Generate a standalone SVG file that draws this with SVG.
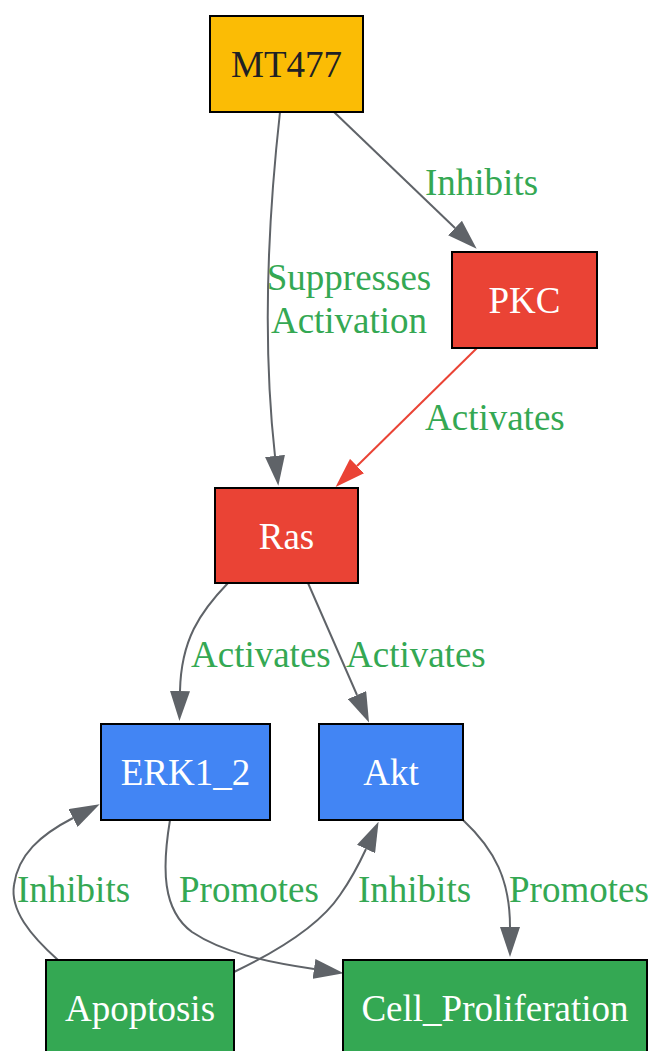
<svg xmlns="http://www.w3.org/2000/svg" width="652" height="1051" viewBox="0 0 652 1051">
<style>
.node rect{stroke:#000;stroke-width:2}
.node text{font-family:"Liberation Serif","Times New Roman",serif;font-size:37px;text-anchor:middle;fill:#fff}
.edge{fill:none;stroke:#5F6368;stroke-width:2}
.red{stroke:#EA4335}
.lbl{font-family:"Liberation Serif","Times New Roman",serif;font-size:37px;fill:#34A853}
</style>
<defs>
<marker id="ag" viewBox="0 0 30 20" markerWidth="30" markerHeight="20" markerUnits="userSpaceOnUse" refX="0" refY="10" orient="auto"><path d="M0,0 L30,10 L0,20 z" fill="#5F6368"/></marker>
<marker id="ar" viewBox="0 0 30 20" markerWidth="30" markerHeight="20" markerUnits="userSpaceOnUse" refX="0" refY="10" orient="auto"><path d="M0,0 L30,10 L0,20 z" fill="#EA4335"/></marker>
</defs>
<rect width="652" height="1051" fill="#fff"/>
<g id="edges">
<path class="edge" d="M280,112 C268,220 262,340 275,456" marker-end="url(#ag)"/>
<path class="edge" d="M334,112 L455,228" marker-end="url(#ag)"/>
<path class="edge red" d="M477,348 L357,466" marker-end="url(#ar)"/>
<path class="edge" d="M228,583 C200,612 181,640 180,691" marker-end="url(#ag)"/>
<path class="edge" d="M308,583 L357,695" marker-end="url(#ag)"/>
<path class="edge" d="M170,820 C162,868 162,910 192,932 C222,952 265,962 314,969" marker-end="url(#ag)"/>
<path class="edge" d="M463,820 C495,850 510,880 510,927" marker-end="url(#ag)"/>
<path class="edge" d="M58,960 C30,935 10,910 14,885 C18,855 40,835 73,818" marker-end="url(#ag)"/>
<path class="edge" d="M234,972 C280,950 320,925 340,895 C352,878 360,862 366,849" marker-end="url(#ag)"/>
<text class="lbl" x="425" y="195">Inhibits</text>
<text class="lbl" x="349" y="290" text-anchor="middle">Suppresses</text>
<text class="lbl" x="349" y="333" text-anchor="middle">Activation</text>
<text class="lbl" x="425" y="430">Activates</text>
<text class="lbl" x="191" y="667">Activates</text>
<text class="lbl" x="346" y="667">Activates</text>
<text class="lbl" x="17" y="902">Inhibits</text>
<text class="lbl" x="179" y="902">Promotes</text>
<text class="lbl" x="358" y="902">Inhibits</text>
<text class="lbl" x="509" y="902">Promotes</text>
</g>
<g id="MT477" class="node"><rect x="210" y="16" width="153" height="96" fill="#FBBC05"/><text x="286.5" y="77" style="fill:#202124">MT477</text></g>
<g id="PKC" class="node"><rect x="452" y="252" width="145" height="96" fill="#EA4335"/><text x="524.5" y="313">PKC</text></g>
<g id="Ras" class="node"><rect x="215" y="488" width="143" height="95" fill="#EA4335"/><text x="286.5" y="549">Ras</text></g>
<g id="ERK1_2" class="node"><rect x="101" y="724" width="169" height="96" fill="#4285F4"/><text x="185.5" y="785">ERK1_2</text></g>
<g id="Akt" class="node"><rect x="319" y="724" width="144" height="96" fill="#4285F4"/><text x="391" y="785">Akt</text></g>
<g id="Apoptosis" class="node"><rect x="46" y="960" width="188" height="96" fill="#34A853"/><text x="140" y="1021">Apoptosis</text></g>
<g id="Cell_Proliferation" class="node"><rect x="343" y="960" width="304" height="96" fill="#34A853"/><text x="495" y="1021">Cell_Proliferation</text></g>
</svg>
